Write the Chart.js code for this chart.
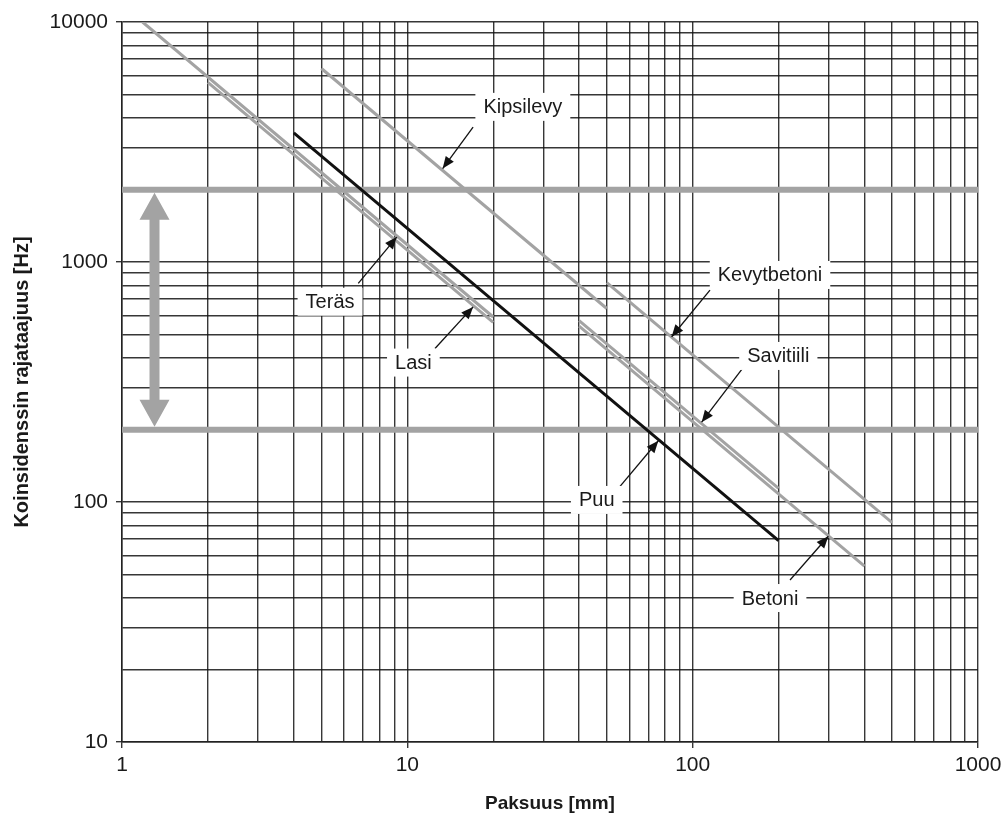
<!DOCTYPE html>
<html>
<head>
<meta charset="utf-8">
<script src="https://cdn.jsdelivr.net/npm/chart.js@4.4.0/dist/chart.umd.min.js"></script>
<style>
  html, body { margin: 0; padding: 0; background: #fff; }
  canvas { display: block; }
</style>
</head>
<body>
<canvas id="chart" width="1008" height="825"></canvas>
<script>
// paksuus [mm] -> koinsidenssin rajataajuus [Hz]
var terasX = [1.18, 20];
var terasY = [10000, 590];
var lasiX = [2, 20];
var lasiY = [5600, 560];
var puuX = [4, 200];
var puuY = [3450, 69];
var kipsilevyX = [5, 50];
var kipsilevyY = [6400, 640];
var kevytbetoniX = [50, 500];
var kevytbetoniY = [820, 82];
var savitiiliX = [40, 200];
var savitiiliY = [570, 114];
var betoniX = [40, 400];
var betoniY = [540, 54];

// taajuusalue 200 - 2000 Hz
var bandLimits = [200, 2000];

var xDecades = [1, 10, 100, 1000];
var yDecades = [10, 100, 1000, 10000];

var GRAY = '#a3a3a3';
var GRID = 'rgba(20,20,20,0.85)';

var minorTicks = (decades) => {
    var out = [];
    for (var i = 0; i < decades.length - 1; i++) {
        for (var k = 1; k <= 9; k++) out.push(decades[i] * k);
    }
    out.push(decades[decades.length - 1]);
    return out;
};

var toPoints = (xs, ys) => xs.map((x, i) => ({ x: x, y: ys[i] }));

var series = (xs, ys, color, width) => ({
    data: toPoints(xs, ys),
    showLine: true,
    borderColor: color,
    borderWidth: width,
    pointRadius: 0,
    fill: false
});

// label text, label centre, arrow tail and arrow tip (data coordinates)
var annotations = [
    { text: 'Kipsilevy', at: [25.4, 4430], from: [17.0, 3650], to: [13.3, 2450] },
    { text: 'Teräs', at: [5.36, 683], from: [6.73, 815], to: [9.18, 1270] },
    { text: 'Lasi', at: [10.5, 381], from: [12.5, 436], to: [17.0, 650] },
    { text: 'Kevytbetoni', at: [186.7, 883], from: [115, 764], to: [84.4, 488] },
    { text: 'Savitiili', at: [199.6, 406], from: [152.6, 372], to: [107.5, 215] },
    { text: 'Puu', at: [46.1, 102], from: [54.9, 114], to: [75.8, 180] },
    { text: 'Betoni', at: [186.7, 39.8], from: [219.4, 47.3], to: [298.9, 72] }
];
var rangeArrowX = 1.3;

var drawArrowHead = (ctx, x1, y1, x2, y2, len, half) => {
    var a = Math.atan2(y2 - y1, x2 - x1);
    ctx.beginPath();
    ctx.moveTo(x2, y2);
    ctx.lineTo(x2 - len * Math.cos(a) + half * Math.sin(a), y2 - len * Math.sin(a) - half * Math.cos(a));
    ctx.lineTo(x2 - len * Math.cos(a) - half * Math.sin(a), y2 - len * Math.sin(a) + half * Math.cos(a));
    ctx.closePath();
    ctx.fill();
};

var overlayPlugin = {
    id: 'overlay',
    afterDatasetsDraw: (chart) => {
        var ctx = chart.ctx;
        var xs = chart.scales.x, ys = chart.scales.y;
        ctx.save();

        // double arrow between the band limits
        var ax = xs.getPixelForValue(rangeArrowX);
        var yTop = ys.getPixelForValue(bandLimits[1]) + 3;
        var yBot = ys.getPixelForValue(bandLimits[0]) - 3;
        var headL = 27, headW = 15, shaft = 5;
        ctx.fillStyle = GRAY;
        ctx.beginPath();
        ctx.moveTo(ax, yTop);
        ctx.lineTo(ax + headW, yTop + headL);
        ctx.lineTo(ax + shaft, yTop + headL);
        ctx.lineTo(ax + shaft, yBot - headL);
        ctx.lineTo(ax + headW, yBot - headL);
        ctx.lineTo(ax, yBot);
        ctx.lineTo(ax - headW, yBot - headL);
        ctx.lineTo(ax - shaft, yBot - headL);
        ctx.lineTo(ax - shaft, yTop + headL);
        ctx.lineTo(ax - headW, yTop + headL);
        ctx.closePath();
        ctx.fill();

        // labels with arrows
        ctx.font = '20px "Liberation Sans", Arial, sans-serif';
        ctx.textAlign = 'center';
        ctx.textBaseline = 'middle';
        annotations.forEach((a) => {
            var fx = xs.getPixelForValue(a.from[0]), fy = ys.getPixelForValue(a.from[1]);
            var tx = xs.getPixelForValue(a.to[0]), ty = ys.getPixelForValue(a.to[1]);
            ctx.strokeStyle = '#111';
            ctx.fillStyle = '#111';
            ctx.lineWidth = 1.3;
            ctx.beginPath();
            ctx.moveTo(fx, fy);
            ctx.lineTo(tx, ty);
            ctx.stroke();
            drawArrowHead(ctx, fx, fy, tx, ty, 12, 5);

            var lx = xs.getPixelForValue(a.at[0]), ly = ys.getPixelForValue(a.at[1]);
            var w = ctx.measureText(a.text).width + 16;
            ctx.fillStyle = '#fff';
            ctx.fillRect(lx - w / 2, ly - 14, w, 28);
            ctx.fillStyle = '#1a1a1a';
            ctx.fillText(a.text, lx, ly + 1);
        });
        ctx.restore();
    }
};

var bandSets = bandLimits.map((v) => series([xDecades[0], xDecades[3]], [v, v], GRAY, 6));

var chart = new Chart(document.getElementById('chart').getContext('2d'), {
    type: 'scatter',
    data: {
        datasets: [
            series(puuX, puuY, '#111', 3),
            series(terasX, terasY, GRAY, 3),
            series(lasiX, lasiY, GRAY, 3),
            series(kipsilevyX, kipsilevyY, GRAY, 3),
            series(kevytbetoniX, kevytbetoniY, GRAY, 3),
            series(savitiiliX, savitiiliY, GRAY, 3),
            series(betoniX, betoniY, GRAY, 3)
        ].concat(bandSets)
    },
    options: {
        responsive: false,
        animation: false,
        layout: { padding: { top: 22, right: 30, left: 0, bottom: 0 } },
        plugins: { legend: { display: false }, tooltip: { enabled: false } },
        scales: {
            x: {
                type: 'logarithmic',
                min: 1,
                max: 1000,
                afterBuildTicks: (s) => { s.ticks = minorTicks(xDecades).map((v) => ({ value: v })); },
                afterFit: (s) => { s.height = 83; },
                ticks: {
                    autoSkip: false,
                    maxRotation: 0,
                    padding: 5,
                    color: '#1a1a1a',
                    font: { family: '"Liberation Sans", Arial, sans-serif', size: 21 },
                    callback: (v) => xDecades.indexOf(v) >= 0 ? String(v) : ''
                },
                grid: {
                    color: GRID,
                    lineWidth: 1.4,
                    tickLength: 6,
                    tickColor: (c) => c.tick && xDecades.indexOf(c.tick.value) >= 0 ? GRID : 'rgba(0,0,0,0)'
                },
                border: { color: '#222', width: 1.5 },
                title: {
                    display: true,
                    text: 'Paksuus [mm]',
                    color: '#1a1a1a',
                    font: { family: '"Liberation Sans", Arial, sans-serif', size: 19, weight: 'bold' },
                    padding: { top: 0, bottom: 10 }
                }
            },
            y: {
                type: 'logarithmic',
                min: 10,
                max: 10000,
                afterBuildTicks: (s) => { s.ticks = minorTicks(yDecades).map((v) => ({ value: v })); },
                afterFit: (s) => { s.width = 122; },
                ticks: {
                    autoSkip: false,
                    padding: 8,
                    color: '#1a1a1a',
                    font: { family: '"Liberation Sans", Arial, sans-serif', size: 21 },
                    callback: (v) => yDecades.indexOf(v) >= 0 ? String(v) : ''
                },
                grid: {
                    color: GRID,
                    lineWidth: 1.4,
                    tickLength: 6,
                    tickColor: (c) => c.tick && yDecades.indexOf(c.tick.value) >= 0 ? GRID : 'rgba(0,0,0,0)'
                },
                border: { color: '#222', width: 1.5 },
                title: {
                    display: true,
                    text: 'Koinsidenssin rajataajuus [Hz]',
                    color: '#1a1a1a',
                    font: { family: '"Liberation Sans", Arial, sans-serif', size: 20, weight: 'bold' },
                    padding: { top: 10, bottom: 0 }
                }
            }
        }
    },
    plugins: [overlayPlugin]
});
</script>
</body>
</html>
